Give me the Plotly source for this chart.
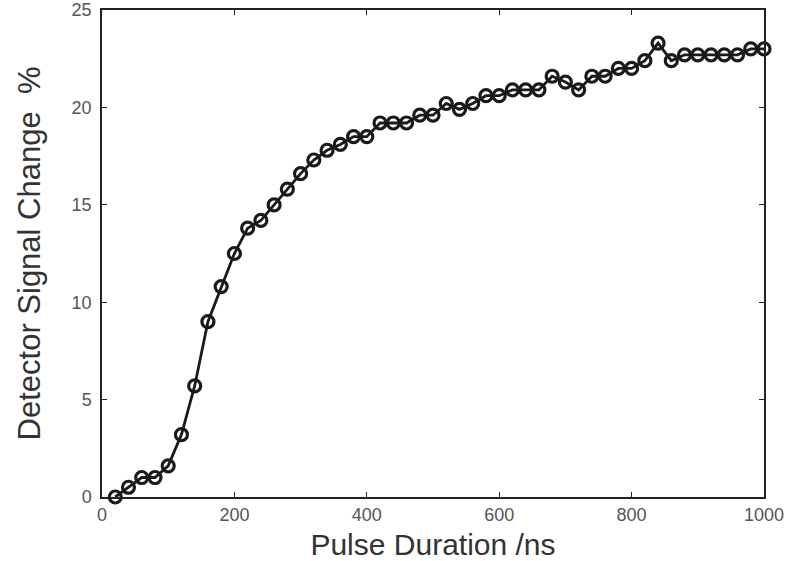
import plotly.graph_objects as go

pulse_ns = [20, 40, 60, 80, 100, 120, 140, 160, 180, 200,
            220, 240, 260, 280, 300, 320, 340, 360, 380, 400,
            420, 440, 460, 480, 500, 520, 540, 560, 580, 600,
            620, 640, 660, 680, 700, 720, 740, 760, 780, 800,
            820, 840, 860, 880, 900, 920, 940, 960, 980, 1000]
signal_pct = [0.0, 0.5, 1.0, 1.0, 1.6, 3.2, 5.7, 9.0, 10.8, 12.5,
              13.8, 14.2, 15.0, 15.8, 16.6, 17.3, 17.8, 18.1, 18.5, 18.5,
              19.2, 19.2, 19.2, 19.6, 19.6, 20.2, 19.9, 20.2, 20.6, 20.6,
              20.9, 20.9, 20.9, 21.6, 21.3, 20.9, 21.6, 21.6, 22.0, 22.0,
              22.4, 23.3, 22.4, 22.7, 22.7, 22.7, 22.7, 22.7, 23.0, 23.0]
x_ticks = [0, 200, 400, 600, 800, 1000]
y_ticks = [0, 5, 10, 15, 20, 25]

fig = go.Figure()
fig.add_trace(go.Scatter(
    x=pulse_ns, y=signal_pct, mode="lines+markers",
    line=dict(color="#1a1a1a", width=2.8),
    marker=dict(symbol="circle-open", size=12, color="#1a1a1a",
                line=dict(width=3.2, color="#1a1a1a")),
    cliponaxis=False, showlegend=False,
))

font = "Liberation Sans, Arial, Helvetica, sans-serif"
axis_common = dict(
    showgrid=False, zeroline=False, showline=True, linecolor="#222",
    linewidth=1.5, mirror="ticks", ticks="inside", ticklen=5,
    tickcolor="#222", tickwidth=1, automargin=False,
    tickfont=dict(family=font, size=18, color="#555"),
)
fig.update_xaxes(range=[0, 1000], tickvals=x_ticks, ticklabelstandoff=1,
                 title=dict(text="Pulse Duration /ns", standoff=14,
                            font=dict(family=font, size=30, color="#333")),
                 **axis_common)
fig.update_yaxes(range=[0, 25], tickvals=y_ticks, ticklabelstandoff=5,
                 title=dict(text="Detector Signal Change  %", standoff=22,
                            font=dict(family=font, size=31, color="#333")),
                 **axis_common)
fig.update_layout(
    width=791, height=561,
    margin=dict(l=102, r=27, t=10, b=64),
    paper_bgcolor="white", plot_bgcolor="white",
)
fig.write_html("out.html")
